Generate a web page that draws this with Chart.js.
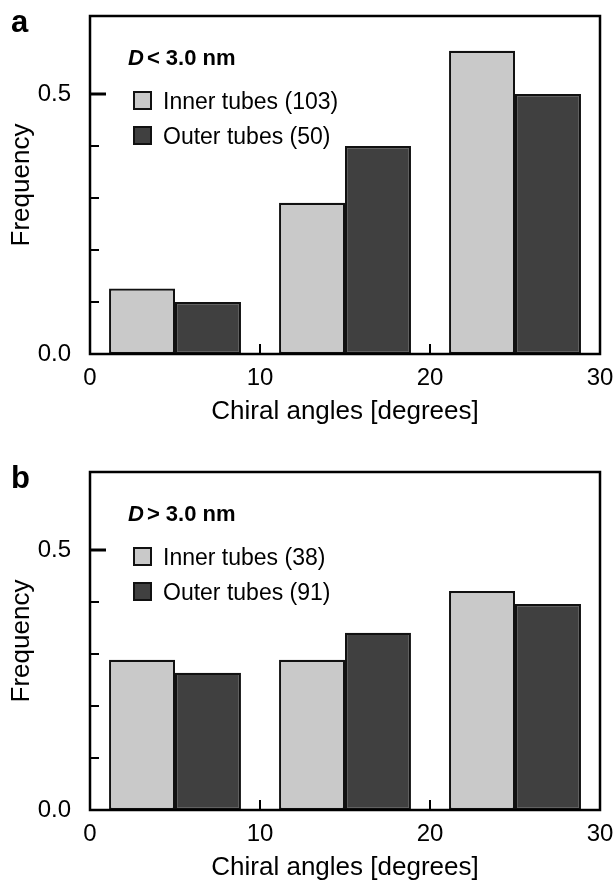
<!DOCTYPE html>
<html>
<head>
<meta charset="utf-8">
<script src="https://cdn.jsdelivr.net/npm/chart.js@4.4.1/dist/chart.umd.min.js"></script>
<style>
  body { margin: 0; background: #fff; font-family: "Liberation Sans", Arial, sans-serif; }
  #wrap { position: relative; width: 616px; height: 884px; overflow: hidden; }
  canvas { position: absolute; left: 0; }
  .panel-letter { position: absolute; font-weight: bold; font-size: 31px; line-height: 1; color: #000; }
  .header { position: absolute; font-weight: bold; font-size: 22px; line-height: 1; color: #000; white-space: nowrap; }
  .leg-box { position: absolute; width: 15px; height: 15px; border: 2px solid #111; }
  .leg-text { position: absolute; font-size: 23px; line-height: 1; color: #000; white-space: nowrap; }
</style>
</head>
<body>
<div id="wrap">
  <canvas id="chart-a" width="616" height="428" style="top:0px"></canvas>
  <canvas id="chart-b" width="616" height="428" style="top:456px"></canvas>
</div>
<script>
// chiral angle bins (degrees), bar centers
const binCenters = [5, 15, 25];
const xTickValues = [0, 10, 20, 30];
const yLabeled = [0, 0.5];

// panel a: D < 3.0 nm
const innerA = [0.126, 0.291, 0.583];
const outerA = [0.10, 0.40, 0.50];
const labelsA = ["Inner tubes (103)", "Outer tubes (50)"];

// panel b: D > 3.0 nm
const innerB = [0.289, 0.289, 0.421];
const outerB = [0.264, 0.341, 0.396];
const labelsB = ["Inner tubes (38)", "Outer tubes (91)"];

const innerColor = "#c9c9c9";
const outerColor = "#404040";
const FONT = "'Liberation Sans', Arial, sans-serif";

const isLabeled = v => yLabeled.some(m => Math.abs(m - v) < 1e-6);

// frame + inward tick marks
const framePlugin = {
  id: "frame",
  afterDatasetsDraw(chart) {
    const { ctx, chartArea: a, scales: { x, y } } = chart;
    ctx.save();
    ctx.strokeStyle = "#000";
    ctx.lineWidth = 2.5;
    ctx.strokeRect(a.left, a.top, a.right - a.left, a.bottom - a.top);

    y.ticks.forEach(t => {
      const v = Math.round(t.value * 100) / 100;
      if (v <= 0 || v > 0.6 + 1e-9) return;
      if (Math.abs(v * 10 - Math.round(v * 10)) > 1e-6) return;
      const major = isLabeled(v);
      const py = y.getPixelForValue(v);
      ctx.lineWidth = major ? 3 : 2;
      ctx.beginPath();
      ctx.moveTo(a.left, py);
      ctx.lineTo(a.left + (major ? 16 : 9), py);
      ctx.stroke();
    });

    ctx.lineWidth = 2;
    xTickValues.forEach(v => {
      if (v === x.min || v === x.max) return;
      const px = x.getPixelForValue(v);
      ctx.beginPath();
      ctx.moveTo(px, a.bottom);
      ctx.lineTo(px, a.bottom - 10);
      ctx.stroke();
    });
    ctx.restore();
  }
};

function makeChart(canvasId, inner, outer, labels) {
  const ctx = document.getElementById(canvasId).getContext("2d");
  return new Chart(ctx, {
    type: "bar",
    data: {
      datasets: [
        {
          label: labels[0],
          data: binCenters.map((c, i) => ({ x: c, y: inner[i] })),
          backgroundColor: innerColor,
          borderColor: "#111",
          borderWidth: 2.2,
          borderSkipped: false
        },
        {
          label: labels[1],
          data: binCenters.map((c, i) => ({ x: c, y: outer[i] })),
          backgroundColor: outerColor,
          borderColor: "#111",
          borderWidth: 2.2,
          borderSkipped: false
        }
      ]
    },
    options: {
      responsive: false,
      animation: false,
      categoryPercentage: 0.776,
      barPercentage: 1,
      layout: { padding: { top: 16, right: 16, left: 0, bottom: 0 } },
      plugins: { legend: { display: false }, tooltip: { enabled: false } },
      scales: {
        x: {
          type: "linear",
          min: 0,
          max: 30,
          offset: false,
          grid: { display: false, offset: false },
          border: { display: false },
          ticks: { stepSize: 10, padding: 2, color: "#000", font: { family: FONT, size: 24 }, maxRotation: 0 },
          title: { display: true, text: "Chiral angles [degrees]", color: "#000", font: { family: FONT, size: 26 }, padding: { top: 0, bottom: 1 } },
          afterFit: s => { s.height = 74; s.paddingLeft = 0; s.paddingRight = 0; }
        },
        y: {
          min: 0,
          max: 0.65,
          grid: { display: false },
          border: { display: false },
          ticks: {
            stepSize: 0.1,
            padding: 11,
            color: "#000",
            // empty labels get a tiny font so they add no padding at the top
            font: c => ({ family: FONT, size: c.tick && !isLabeled(c.tick.value) ? 1 : 24 }),
            autoSkip: false,
            callback: v => isLabeled(v) ? Number(v).toFixed(1) : ""
          },
          title: { display: true, text: "Frequency", color: "#000", font: { family: FONT, size: 26 }, padding: { top: 6, bottom: 0 } },
          afterFit: s => { s.width = 90; s.paddingTop = 0; s.paddingBottom = 0; }
        }
      }
    },
    plugins: [framePlugin]
  });
}

// panel letter, header and legend as html text over the canvas
function addOverlay(top, letter, headerHtml, labels) {
  const wrap = document.getElementById("wrap");
  const l = document.createElement("div");
  l.className = "panel-letter";
  l.style.left = "11px";
  l.style.top = (top - 10) + "px";
  l.textContent = letter;
  wrap.appendChild(l);

  const h = document.createElement("div");
  h.className = "header";
  h.style.left = "128px";
  h.style.top = (top + 31) + "px";
  h.innerHTML = headerHtml;
  wrap.appendChild(h);

  [innerColor, outerColor].forEach((col, i) => {
    const b = document.createElement("div");
    b.className = "leg-box";
    b.style.left = "133px";
    b.style.top = (top + 75 + i * 35) + "px";
    b.style.background = col;
    wrap.appendChild(b);

    const t = document.createElement("div");
    t.className = "leg-text";
    t.style.left = "163px";
    t.style.top = (top + 74 + i * 35) + "px";
    t.textContent = labels[i];
    wrap.appendChild(t);
  });
}

makeChart("chart-a", innerA, outerA, labelsA);
makeChart("chart-b", innerB, outerB, labelsB);
addOverlay(16, "a", "<i>D</i><span style=\"margin-left:3px\">&lt;</span> 3.0 nm", labelsA);
addOverlay(472, "b", "<i>D</i><span style=\"margin-left:3px\">&gt;</span> 3.0 nm", labelsB);
</script>
</body>
</html>
